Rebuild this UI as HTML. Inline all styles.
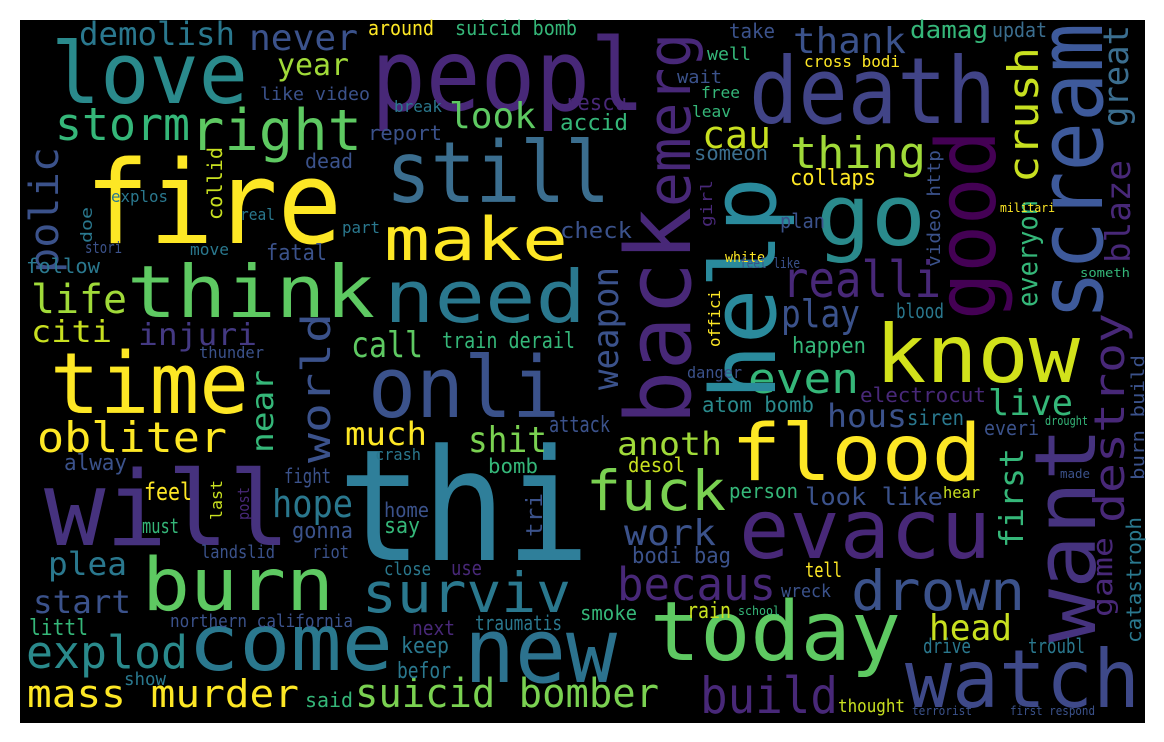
<!DOCTYPE html>
<html><head><meta charset="utf-8">
<style>
html,body{margin:0;padding:0;background:#fff;width:1164px;height:742px;overflow:hidden}
svg{display:block}
text{font-family:"DejaVu Sans Mono","Liberation Mono",monospace}
</style></head>
<body>
<svg width="1164" height="742" viewBox="0 0 1164 742">
<rect x="0" y="0" width="1164" height="742" fill="#fff"/>
<rect x="20" y="20" width="1125" height="703" fill="#000"/>
<g id="words"></g>
</svg>
<script>
// text, x, y (baseline start; for vertical: baseline x, bottom y), size, length, vertical, color
const W=[
["thi",338,560,155,252,0,"#2f7f9a"],
["will",44,545,103,246,0,"#46327e"],
["fire",85,243,115,257,0,"#fde725"],
["peopl",371,110,100,274,0,"#482878"],
["love",51,103,85,197,0,"#2a8a8c"],
["death",749,123,92,247,0,"#414487"],
["still",386,202,85,224,0,"#3b6e8f"],
["think",127,317,72,248,0,"#5ec962"],
["need",384,322,72,202,0,"#2a788e"],
["make",384,260,60,184,0,"#fde725"],
["right",190,150,57,172,0,"#5ec962"],
["go",816,245,85,110,0,"#2a8a8c"],
["know",875,382,80,205,0,"#d2e21b"],
["flood",731,480,78,251,0,"#fde725"],
["evacu",739,558,82,252,0,"#482878"],
["today",650,660,82,251,0,"#5ec962"],
["watch",905,707,80,235,0,"#3e4989"],
["new",464,682,90,153,0,"#2c728e"],
["come",188,670,78,205,0,"#2a788e"],
["burn",142,610,73,192,0,"#5ec962"],
["time",50,413,85,199,0,"#fde725"],
["onli",368,417,85,192,0,"#3b528b"],
["fuck",586,510,55,140,0,"#7ad151"],
["surviv",362,612,55,209,0,"#2a788e"],
["drown",851,610,55,174,0,"#3b528b"],
["becaus",617,600,45,159,0,"#482878"],
["explod",26,668,45,162,0,"#2a8a8c"],
["mass murder",27,707,38,272,0,"#fde725"],
["suicid bomber",355,707,40,304,0,"#7ad151"],
["build",700,713,50,138,0,"#482878"],
["obliter",37,452,42,190,0,"#fde725"],
["storm",55,140,45,135,0,"#35b779"],
["demolish",79,45,32,156,0,"#2a788e"],
["life",31,313,40,96,0,"#a0da39"],
["citi",31,342,30,81,0,"#c8e020"],
["injuri",138,345,30,119,0,"#443983"],
["call",351,357,36,72,0,"#5ec962"],
["much",345,445,32,82,0,"#fde725"],
["shit",468,452,36,79,0,"#7ad151"],
["hope",272,517,38,81,0,"#2a788e"],
["work",624,545,36,92,0,"#3b528b"],
["anoth",617,455,32,105,0,"#a0da39"],
["even",748,393,42,111,0,"#35b779"],
["play",781,327,38,79,0,"#3b528b"],
["realli",782,297,50,159,0,"#482878"],
["thing",790,168,44,136,0,"#a0da39"],
["cau",702,148,38,69,0,"#c8e020"],
["live",988,415,36,85,0,"#35b779"],
["head",929,640,36,83,0,"#c8e020"],
["thank",793,53,36,113,0,"#3b528b"],
["never",249,50,36,109,0,"#3b528b"],
["year",277,75,30,72,0,"#a0da39"],
["look",449,128,36,87,0,"#5ec962"],
["hous",827,427,32,80,0,"#3b528b"],
["plea",48,575,32,79,0,"#2a788e"],
["start",33,613,32,98,0,"#3b528b"],
["littl",29,635,22,59,0,"#35b779"],
["feel",144,500,24,48,0,"#fde725"],
["must",142,533,20,37,0,"#35b779"],
["look like",805,505,24,138,0,"#3b528b"],
["first",1023,548,33,100,1,"#35b779"],
["everyon",1037,307,28,107,1,"#35b779"],
["help",775,400,90,223,1,"#2a8a9c"],
["back",690,425,90,218,1,"#482878"],
["emerg",690,207,60,174,1,"#482878"],
["good",995,320,82,190,1,"#440154"],
["scream",1102,320,90,297,1,"#3e5a9b"],
["want",1095,643,85,216,1,"#46337f"],
["crush",1038,183,42,136,1,"#c8e020"],
["destroy",1124,523,42,210,1,"#482878"],
["blaze",1130,263,34,103,1,"#482878"],
["great",1128,127,35,102,1,"#3b6e8f"],
["game",1112,617,28,80,1,"#482878"],
["polic",58,273,40,126,1,"#3b528b"],
["world",330,463,40,150,1,"#3b528b"],
["near",273,453,30,83,1,"#35b779"],
["weapon",618,390,36,123,1,"#3b528b"],
["tri",542,537,22,44,1,"#3b528b"],
["catastroph",1141,643,20,126,1,"#2a788e"],
["burn build",1144,480,18,125,1,"#3b528b"],
["collid",222,220,20,73,1,"#c8e020"],
["doe",92,243,16,36,1,"#2a788e"],
["last",222,520,16,40,1,"#c8e020"],
["post",249,520,16,33,1,"#482878"],
["video http",940,267,18,117,1,"#3b528b"],
["girl",712,227,16,47,1,"#482878"],
["offici",720,347,16,57,1,"#fde725"],
["around",368,35,20,66,0,"#fde725"],
["suicid bomb",455,35,20,122,0,"#35b779"],
["damag",910,38,24,78,0,"#35b779"],
["updat",992,37,20,55,0,"#3b6e8f"],
["take",729,38,20,46,0,"#3b528b"],
["well",707,60,18,44,0,"#35b779"],
["cross bodi",804,67,16,96,0,"#fde725"],
["wait",677,83,18,45,0,"#3b528b"],
["free",701,98,16,39,0,"#35b779"],
["leav",692,117,16,39,0,"#35b779"],
["rescu",565,110,22,62,0,"#482878"],
["accid",560,130,22,68,0,"#35b779"],
["report",368,140,20,74,0,"#3b528b"],
["like video",260,100,18,110,0,"#3b528b"],
["break",394,112,16,48,0,"#2a788e"],
["dead",305,168,20,48,0,"#3b528b"],
["explos",111,202,16,57,0,"#2a788e"],
["real",240,220,16,35,0,"#2a788e"],
["part",342,233,16,38,0,"#2a788e"],
["fatal",266,260,22,61,0,"#3b528b"],
["move",190,255,16,39,0,"#2a788e"],
["stori",85,253,16,37,0,"#3b528b"],
["follow",26,273,20,74,0,"#2a788e"],
["check",560,238,22,72,0,"#3b528b"],
["collaps",790,185,22,86,0,"#fde725"],
["plan",780,228,20,45,0,"#3b528b"],
["someon",694,160,20,74,0,"#3b6e8f"],
["thunder",199,358,16,65,0,"#3b528b"],
["train derail",442,348,22,133,0,"#35b779"],
["atom bomb",702,412,21,112,0,"#2a8a8c"],
["electrocut",860,402,20,126,0,"#482878"],
["siren",907,425,21,57,0,"#2a788e"],
["everi",984,435,20,55,0,"#3b528b"],
["danger",687,378,16,55,0,"#3b528b"],
["attack",549,432,22,61,0,"#3b528b"],
["crash",375,460,16,46,0,"#2a788e"],
["alway",64,470,22,63,0,"#3b528b"],
["bomb",488,473,20,50,0,"#35b779"],
["happen",792,353,22,74,0,"#35b779"],
["blood",896,318,20,48,0,"#2a788e"],
["person",729,498,20,69,0,"#35b779"],
["hear",943,498,16,37,0,"#c8e020"],
["desol",628,472,20,57,0,"#c8e020"],
["fight",284,483,20,47,0,"#3b528b"],
["home",384,517,20,45,0,"#3b528b"],
["gonna",292,538,22,61,0,"#3b528b"],
["say",384,533,22,36,0,"#35b779"],
["landslid",201,558,18,74,0,"#3b528b"],
["riot",312,558,18,37,0,"#3b528b"],
["close",384,575,18,47,0,"#2a788e"],
["use",451,575,20,31,0,"#482878"],
["northern california",170,627,18,183,0,"#3b528b"],
["next",412,635,20,43,0,"#482878"],
["traumatis",475,630,20,87,0,"#2a788e"],
["smoke",580,620,20,57,0,"#35b779"],
["keep",401,653,22,48,0,"#2a788e"],
["befor",397,678,22,54,0,"#2a788e"],
["show",124,685,18,42,0,"#2a788e"],
["said",305,707,20,48,0,"#35b779"],
["bodi bag",632,563,22,99,0,"#3b528b"],
["tell",805,577,20,37,0,"#fde725"],
["wreck",781,597,18,50,0,"#3b528b"],
["rain",687,618,22,44,0,"#c8e020"],
["school",738,615,12,42,0,"#35b779"],
["drive",923,653,20,48,0,"#2a788e"],
["troubl",1028,653,20,57,0,"#2a788e"],
["thought",838,712,18,67,0,"#c8e020"],
["terrorist",912,715,12,60,0,"#3b528b"],
["first respond",1010,715,12,85,0,"#3b528b"],
["white",725,262,14,40,0,"#fde725"],
["feel like",740,268,14,60,0,"#3b528b"],
["militari",1000,212,12,55,0,"#fde725"],
["someth",1080,277,12,50,0,"#35b779"],
["drought",1045,425,12,43,0,"#35b779"],
["made",1060,478,12,30,0,"#3b528b"]
];
const g=document.getElementById('words');
const NS='http://www.w3.org/2000/svg';
W.forEach(w=>{
  const t=document.createElementNS(NS,'text');
  
  
  t.textContent=w[0];
  t.setAttribute('font-size',w[3]);
  t.setAttribute('fill',w[6]);
  t.setAttribute('textLength',w[4]);
  t.setAttribute('lengthAdjust','spacingAndGlyphs');
  if(w[5]){
    t.setAttribute('transform','translate('+w[1]+','+w[2]+') rotate(-90)');
    t.setAttribute('x',0);t.setAttribute('y',0);
  }else{
    t.setAttribute('x',w[1]);t.setAttribute('y',w[2]);
  }
  g.appendChild(t);
});
</script>
</body></html>
